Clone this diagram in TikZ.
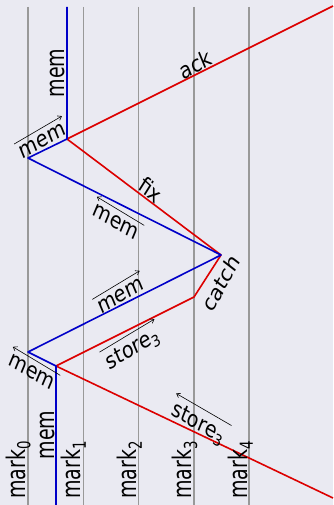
\documentclass[tikz,border=0pt]{standalone}
\usepackage{fontspec}
\setmainfont{DejaVu Sans}
\usetikzlibrary{arrows.meta}
\definecolor{bgc}{HTML}{EAEAF2}
\definecolor{tickc}{HTML}{999999}
\definecolor{blu}{RGB}{0,0,200}
\definecolor{rdc}{RGB}{220,0,0}
\begin{document}
\begin{tikzpicture}[x=1pt,y=-1pt,
  tick/.style={draw=tickc,line width=1.5pt},
  bline/.style={draw=blu,line width=1.6pt,line join=round},
  rline/.style={draw=rdc,line width=1.6pt,line join=round},
  lbl/.style={font=\fontsize{19}{23}\selectfont,inner sep=0pt,text=black},
  vlbl/.style={lbl,rotate=90,yscale=1.35},
  slbl/.style={lbl,yscale=1.2},
  albl/.style={slbl,inner xsep=2pt,inner ysep=4.5pt},
  ovr/.style={draw=black,line width=0.6pt},
  rarr/.style={ovr,-{Straight Barb[length=3.5pt,width=5pt]}},
  larr/.style={ovr,{Straight Barb[length=3.5pt,width=5pt]}-},
]
\fill[bgc] (0,0) rectangle (333,505);
\useasboundingbox (0,0) rectangle (333,505);
% marks
\foreach \i/\x in {0/28,1/83.3,2/138.6,3/193.9,4/249.2}{
  \coordinate (t\i) at (\x,7);
  \coordinate (b\i) at (\x,505);
  \draw[tick] (t\i) -- (b\i);
}
% key points
\coordinate (top) at (67,7);
\coordinate (B) at (67,139);
\coordinate (C) at (28,158);
\coordinate (D) at (221,255);
\coordinate (E) at (28,352);
\coordinate (F) at (56,366);
\coordinate (bot) at (56,505);
\coordinate (H) at (194,297);
\coordinate (ackend) at (333,6);
\coordinate (storeend) at (333,498);
% lines
\draw[rline] (ackend) -- (B) -- (D) -- (H) -- (F) -- (storeend);
\draw[bline] (top) -- (B) -- (C) -- (D) -- (E) -- (F) -- (bot);
% labels
\node[vlbl] (vm1) at (57.5,73) {mem};
\node[vlbl] (vm2) at (47.5,435) {mem};
\node[albl,rotate=26] (m1) at (42.5,141) {mem};
\draw[rarr] (m1.north west) -- (m1.north east);
\node[albl,rotate=-26.7] (m2) at (116,222) {mem};
\draw[larr] (m2.north west) -- (m2.north east);
\node[albl,rotate=26.7] (m3) at (120.5,296) {mem};
\draw[rarr] (m3.north west) -- (m3.north east);
\node[albl,rotate=-26.6] (m4) at (32,372) {mem};
\draw[larr] (m4.north west) -- (m4.north east);
\node[slbl,rotate=-37] (fx) at (151,189.5) {fix};
\node[slbl,rotate=26.4] (ak) at (195.5,64.5) {ack};
\node[slbl,rotate=57.3] (ct) at (221,283) {catch};
\node[albl,rotate=26.6] (s1) at (133,350) {store\textsubscript{3}};
\draw[rarr] (s1.north west) -- (s1.north east);
\node[albl,rotate=-25.8] (s2) at (198,424) {store\textsubscript{3}};
\draw[larr] (s2.north west) -- (s2.north east);
\foreach \i/\x in {0/25,1/80.8,2/136.6,3/191.9,4/247.7}{
  \node[vlbl,anchor=base west] (k\i) at (\x,499) {mark\textsubscript{\i}};
}
\end{tikzpicture}
\end{document}
